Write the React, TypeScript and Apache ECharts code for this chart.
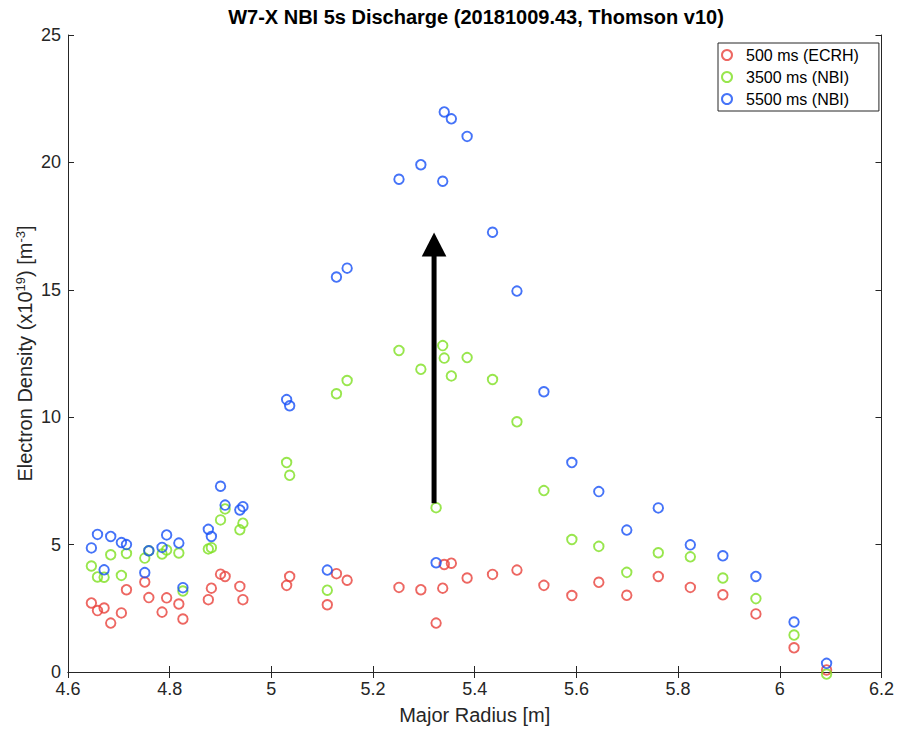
import React, { useEffect, useRef } from "react";
import * as echarts from "echarts";

// Thomson scattering channel positions (major radius, m)
const radius = [
  4.646, 4.658, 4.671, 4.684, 4.705, 4.715, 4.751, 4.759, 4.785, 4.794, 4.818, 4.826,
  4.876, 4.882, 4.900, 4.909, 4.938, 4.944, 5.030, 5.036, 5.110, 5.128, 5.149, 5.251,
  5.294, 5.324, 5.337, 5.340, 5.354, 5.385, 5.435, 5.483, 5.536, 5.591, 5.644, 5.699,
  5.761, 5.824, 5.888, 5.953, 6.028, 6.092,
];
// electron density (1e19 m^-3)
const ne500 = [
  2.71, 2.41, 2.51, 1.92, 2.32, 3.23, 3.53, 2.92, 2.35, 2.91, 2.67, 2.08,
  2.84, 3.29, 3.84, 3.75, 3.36, 2.84, 3.40, 3.75, 2.64, 3.86, 3.60, 3.32,
  3.23, 1.92, 3.29, 4.22, 4.27, 3.69, 3.83, 4.00, 3.40, 3.00, 3.52, 3.01,
  3.75, 3.32, 3.03, 2.28, 0.95, 0.08,
];
const ne3500 = [
  4.16, 3.73, 3.72, 4.60, 3.79, 4.65, 4.47, 4.76, 4.63, 4.79, 4.67, 3.18,
  4.83, 4.88, 5.97, 6.40, 5.58, 5.84, 8.22, 7.72, 3.21, 10.92, 11.44, 12.62,
  11.88, 6.45, 12.81, 12.32, 11.62, 12.34, 11.48, 9.82, 7.12, 5.20, 4.93, 3.91,
  4.68, 4.52, 3.69, 2.88, 1.45, -0.08,
];
const ne5500 = [
  4.87, 5.40, 4.01, 5.32, 5.08, 5.00, 3.90, 4.76, 4.89, 5.38, 5.06, 3.31,
  5.60, 5.32, 7.29, 6.55, 6.36, 6.49, 10.69, 10.45, 4.00, 15.50, 15.85, 19.34,
  19.91, 4.29, 19.26, 21.98, 21.71, 21.02, 17.26, 14.95, 11.00, 8.22, 7.08, 5.57,
  6.44, 4.99, 4.56, 3.75, 1.96, 0.34,
];
const seriesNames = ["500 ms (ECRH)", "3500 ms (NBI)", "5500 ms (NBI)"];
// annotation arrow: [radius, from density, to density]
const arrow = [[5.32, 6.62, 17.25]];

const xTicks = { min: 4.6, max: 6.2, step: 0.2 };
const yTicks = { min: 0, max: 25, step: 5 };

const COLORS = ["#e8413b", "#7ee021", "#1650f6"];
const AX = "#262626";
const FONT = "'Liberation Sans', Arial, Helvetica, sans-serif";

export default function App() {
  const ref = useRef<HTMLDivElement>(null);
  useEffect(() => {
    if (!ref.current) return;
    const chart = echarts.init(ref.current, null, { renderer: "svg" });
    const sets = [ne500, ne3500, ne5500];
    const scatter = sets.map((vals, i) => ({
      name: seriesNames[i],
      type: "scatter",
      xAxisIndex: 0,
      yAxisIndex: 0,
      symbol: "circle",
      symbolSize: 9.5,
      clip: false,
      itemStyle: { color: "rgba(255,255,255,0)", borderColor: COLORS[i], borderWidth: 1.9 },
      emphasis: { disabled: true },
      data: radius.map((r, k) => [r, vals[k]]),
      z: 2 + i,
    }));
    const axisCommon = {
      axisLine: { show: true, lineStyle: { color: AX, width: 1 } },
      axisTick: { show: true, inside: true, length: 6, lineStyle: { color: AX } },
      splitLine: { show: false },
    };
    chart.setOption({
      animation: false,
      textStyle: { fontFamily: FONT },
      grid: { left: 68, right: 15, top: 35, bottom: 56, containLabel: false },
      graphic: [
        {
          type: "text",
          x: 476,
          y: 17,
          style: {
            text: "W7-X NBI 5s Discharge (20181009.43, Thomson v10)",
            fill: "#000",
            font: `bold 20px ${FONT}`,
            align: "center",
            verticalAlign: "middle",
          },
        },
      ],
      legend: {
        data: seriesNames,
        orient: "vertical",
        left: 718,
        top: 43,
        padding: [4, 20, 4, 3],
        itemGap: 6,
        itemWidth: 28,
        itemHeight: 10,
        icon: "circle",
        borderColor: AX,
        borderWidth: 1,
        backgroundColor: "#fff",
        textStyle: { fontFamily: FONT, fontSize: 16, color: "#000" },
      },
      xAxis: [
        {
          type: "value",
          min: xTicks.min,
          max: xTicks.max,
          interval: xTicks.step,
          position: "bottom",
          ...axisCommon,
          axisLabel: { color: AX, fontSize: 18, fontFamily: FONT, margin: 8 },
          name: "Major Radius [m]",
          nameLocation: "middle",
          nameGap: 33,
          nameMoveOverlap: false,
          nameTextStyle: { color: AX, fontSize: 20, fontFamily: FONT },
        },
        {
          type: "value",
          min: xTicks.min,
          max: xTicks.max,
          interval: xTicks.step,
          position: "top",
          ...axisCommon,
          axisLabel: { show: false },
        },
      ],
      yAxis: [
        {
          type: "value",
          min: yTicks.min,
          max: yTicks.max,
          interval: yTicks.step,
          position: "left",
          ...axisCommon,
          axisLabel: { color: AX, fontSize: 18, fontFamily: FONT, margin: 7 },
          name: "{n|Electron Density (x10}{s|19}{n|) [m}{s|-3}{n|]}",
          nameLocation: "middle",
          nameRotate: 90,
          nameGap: 32,
          nameMoveOverlap: false,
          nameTextStyle: {
            color: AX,
            fontFamily: FONT,
            rich: {
              n: { fontSize: 20, color: AX, fontFamily: FONT, lineHeight: 22 },
              s: { fontSize: 13, color: AX, fontFamily: FONT, verticalAlign: "top", lineHeight: 22, padding: [0, 0, 10, 0] },
            },
          },
        },
        {
          type: "value",
          min: yTicks.min,
          max: yTicks.max,
          interval: yTicks.step,
          position: "right",
          ...axisCommon,
          axisLabel: { show: false },
        },
      ],
      series: [
        ...scatter,
        {
          type: "custom",
          name: "arrow",
          xAxisIndex: 0,
          yAxisIndex: 0,
          clip: false,
          silent: true,
          z: 10,
          encode: { x: 0, y: [1, 2] },
          data: arrow,
          renderItem: (_params: any, api: any) => {
            const p0 = api.coord([api.value(0), api.value(1)]);
            const p1 = api.coord([api.value(0), api.value(2)]);
            const headLen = 24;
            const half = 12.3;
            return {
              type: "group",
              children: [
                {
                  type: "line",
                  shape: { x1: p0[0], y1: p0[1], x2: p1[0], y2: p1[1] + headLen - 1 },
                  style: { stroke: "#000", lineWidth: 5 },
                },
                {
                  type: "polygon",
                  shape: {
                    points: [
                      [p1[0], p1[1]],
                      [p1[0] - half, p1[1] + headLen],
                      [p1[0] + half, p1[1] + headLen],
                    ],
                  },
                  style: { fill: "#000" },
                },
              ],
            };
          },
        },
      ],
    });
    return () => chart.dispose();
  }, []);
  return (
    <div
      ref={ref}
      style={{ position: "absolute", left: 0, top: 0, width: 897, height: 730, background: "#fff" }}
    />
  );
}
